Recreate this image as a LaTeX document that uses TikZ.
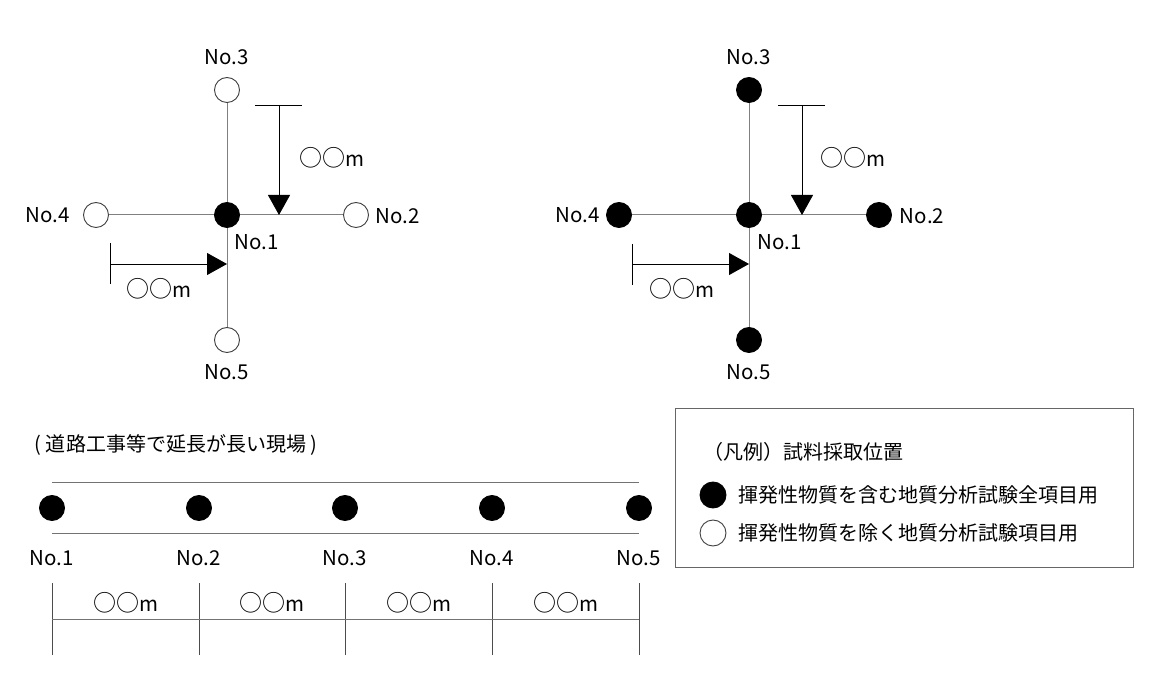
\documentclass[tikz,border=0pt]{standalone}
\usepackage{fontspec}
\setmainfont{Noto Sans CJK JP}
\usetikzlibrary{arrows.meta}
\newcommand{\oom}{{\fontsize{23}{24}\selectfont ○○}m}
\begin{document}
\begin{tikzpicture}[x=1pt,y=-1pt,
  ptbase/.style={circle, minimum size=25pt, inner sep=0pt, line width=0.9pt},
  openpt/.style={ptbase, draw=black!75, fill=white},
  fullpt/.style={ptbase, draw=black, fill=black},
  lbl/.style={font=\fontsize{20.5}{22}\selectfont, inner sep=0pt},
  jp/.style={font=\fontsize{20}{22}\selectfont, inner sep=0pt},
  crossline/.style={draw=black!50, line width=1pt},
  dimline/.style={draw=black, line width=0.8pt},
  dimarrow/.style={dimline, -{Triangle[length=20pt,width=22pt]}},
  roadline/.style={draw=black!55, line width=1pt},
  legendbox/.style={draw=black!60, line width=1pt}
]
\useasboundingbox (0,0) rectangle (1160,700);

% ---------- left cross ----------
\node[openpt] (La3) at (227,90) {};
\node[openpt] (La4) at (96,215) {};
\node[openpt] (La2) at (356,215) {};
\node[openpt] (La5) at (227,340) {};
\node[fullpt] (La1) at (227,215) {};
\draw[crossline] (La3) -- (La1);
\draw[crossline] (La1) -- (La5);
\draw[crossline] (La4) -- (La1);
\draw[crossline] (La1) -- (La2);
\node[lbl] (Lt3) at (227,57) {No.3};
\node[lbl] (Lt4) at (48,215) {No.4};
\node[lbl] (Lt2) at (398,216) {No.2};
\node[lbl] (Lt1) at (257,242) {No.1};
\node[lbl] (Lt5) at (227,372) {No.5};
% dimensions
\coordinate (LvA) at (255,105);
\coordinate (LvB) at (302,105);
\coordinate (LvT) at (279,105);
\draw[dimline] (LvA) -- (LvB);
\draw[dimarrow] (LvT) -- (LvT |- La1);
\node[lbl] (Ldv) at (332,158) {\oom};
\coordinate (LhA) at (110,243);
\coordinate (LhB) at (110,284);
\coordinate (LhT) at (110,264);
\draw[dimline] (LhA) -- (LhB);
\draw[dimarrow] (LhT) -- (LhT -| La1);
\node[lbl] (Ldh) at (159,289) {\oom};

% ---------- right cross ----------
\node[fullpt] (Ra3) at (749,90) {};
\node[fullpt] (Ra4) at (619,215) {};
\node[fullpt] (Ra2) at (879,215) {};
\node[fullpt] (Ra5) at (749,340) {};
\node[fullpt] (Ra1) at (749,215) {};
\draw[crossline] (Ra3) -- (Ra1);
\draw[crossline] (Ra1) -- (Ra5);
\draw[crossline] (Ra4) -- (Ra1);
\draw[crossline] (Ra1) -- (Ra2);
\node[lbl] (Rt3) at (749,57) {No.3};
\node[lbl] (Rt4) at (578,215) {No.4};
\node[lbl] (Rt2) at (922,216) {No.2};
\node[lbl] (Rt1) at (780,242) {No.1};
\node[lbl] (Rt5) at (749,372) {No.5};
\coordinate (RvA) at (778,105);
\coordinate (RvB) at (825,105);
\coordinate (RvT) at (802,105);
\draw[dimline] (RvA) -- (RvB);
\draw[dimarrow] (RvT) -- (RvT |- Ra1);
\node[lbl] (Rdv) at (853,158) {\oom};
\coordinate (RhA) at (632,244);
\coordinate (RhB) at (632,285);
\coordinate (RhT) at (632,264);
\draw[dimline] (RhA) -- (RhB);
\draw[dimarrow] (RhT) -- (RhT -| Ra1);
\node[lbl] (Rdh) at (682,289) {\oom};

% ---------- road ----------
\node[jp] (roadtitle) at (176,445) {( 道路工事等で延長が長い現場 )};
\coordinate (rTL) at (52,483);
\coordinate (rTR) at (639,483);
\coordinate (rBL) at (52,533);
\coordinate (rBR) at (639,533);
\draw[roadline] (rTL) -- (rTR);
\draw[roadline] (rBL) -- (rBR);
\foreach \i/\x in {1/52,2/199,3/345,4/492,5/639}{
  \node[fullpt] (B\i) at (\x,508) {};
  \node[lbl] (Bt\i) at (\x,558) {No.\i};
  \coordinate (Bk\i a) at (\x,583);
  \coordinate (Bk\i b) at (\x,655);
  \coordinate (Bd\i) at (\x,619);
  \draw[roadline, draw=black!70] (Bk\i a) -- (Bk\i b);
}
\draw[roadline] (Bd1) -- (Bd5);
\foreach \i/\x in {1/125.5,2/272,3/418.5,4/565.5}{
  \node[lbl] (Bm\i) at (\x,603) {\oom};
}

% ---------- legend ----------
\node[legendbox, minimum width=458pt, minimum height=159pt, anchor=north west, inner sep=0pt] (legend) at (675,408) {};
\node[jp, anchor=west] (legtitle) at (703,452) {（凡例）試料採取位置};
\node[fullpt, minimum size=26pt] (leg1) at (713,495) {};
\node[jp, anchor=west] (legt1) at (738,495) {揮発性物質を含む地質分析試験全項目用};
\node[openpt, minimum size=26pt] (leg2) at (713,533) {};
\node[jp, anchor=west] (legt2) at (738,533) {揮発性物質を除く地質分析試験項目用};
\end{tikzpicture}
\end{document}
